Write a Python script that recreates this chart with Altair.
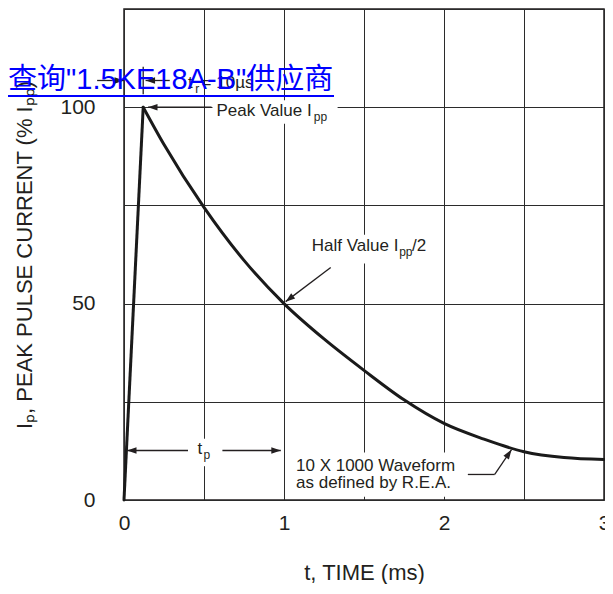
import math
import altair as alt
import pandas as pd

# ---------------- data ----------------
rise_t = [0.0, 0.12]
rise_v = [0.0, 100.0]
decay_t = [0.12, 0.25, 0.5, 0.75, 1.0, 1.25, 1.5, 1.75, 2.0, 2.25, 2.5, 2.75, 3.0]
decay_v = [100.0, 90.5, 74.5, 61.0, 50.0, 41.0, 33.0, 25.5, 19.5, 15.5, 12.3, 10.8, 10.3]

x_ticks = [0, 0.5, 1, 1.5, 2, 2.5, 3]
y_ticks = [0, 25, 50, 75, 100, 125]

# ---------------- annotation layout (data units) ----------------
txt_label = ["t", "r", "= 10µs", "Peak Value I", "pp", "Half Value I", "pp", "/2",
             "t", "p", "10 X 1000 Waveform", "as defined by R.E.A."]
txt_t = [0.40, 0.445, 0.485, 0.578, 1.186, 1.174, 1.72, 1.80, 0.46, 0.497, 1.075, 1.075]
txt_v = [104.8, 103.6, 104.8, 97.7, 96.4, 63.5, 62.0, 63.5, 11.8, 10.4, 7.3, 3.0]
txt_size = [17, 12, 17, 17, 12, 17, 12, 17, 17, 12, 17, 17]

box_t1 = [0.553, 1.149, 0.43, 1.043]
box_t2 = [1.335, 1.913, 0.565, 2.149]
box_v1 = [95.8, 60.2, 8.6, 0.8]
box_v2 = [101.8, 67.5, 15.6, 12.1]

# segments: tail -> tip ; head flag
seg_t1 = [-0.168, 0.286, 0.12, 0.547, 1.292, 0.40, 0.615, 2.149, 2.317]
seg_v1 = [106.8, 106.8, 110.3, 100.0, 59.2, 12.6, 12.6, 6.5, 6.5]
seg_t2 = [0.0, 0.135, 0.12, 0.15, 1.01, 0.019, 0.98, 2.317, 2.422]
seg_v2 = [106.8, 106.8, 103.3, 100.0, 50.5, 12.6, 12.6, 6.5, 12.8]
seg_head = [True, True, False, True, True, True, True, False, True]

watermark = '查询"1.5KE18A-B"供应商'

W, H = 480, 491
XMAX, YMAX = 3.0, 125.0
pxx = W / XMAX
pxy = H / YMAX

curve_rise = pd.DataFrame({"t": rise_t, "v": rise_v})
curve_decay = pd.DataFrame({"t": decay_t, "v": decay_v})
texts = pd.DataFrame({"label": txt_label, "t": txt_t, "v": txt_v, "s": txt_size})
boxes = pd.DataFrame({"t1": box_t1, "t2": box_t2, "v1": box_v1, "v2": box_v2})
segs = pd.DataFrame({"t1": seg_t1, "v1": seg_v1, "t2": seg_t2, "v2": seg_v2})

heads = []
for a, b, c, d, h in zip(seg_t1, seg_v1, seg_t2, seg_v2, seg_head):
    if h:
        dx = (a - c) * pxx
        dy = -(b - d) * pxy
        ang = math.degrees(math.atan2(dy, dx)) % 360
        heads.append({"t": c, "v": d, "ang": ang})
heads = pd.DataFrame(heads)

ink = "#231f20"
FONT = "Liberation Sans"

xs = alt.Scale(domain=[0, XMAX], nice=False, zero=False)
ys = alt.Scale(domain=[0, YMAX], nice=False, zero=False)

x_axis = alt.Axis(values=x_ticks,
                  labelExpr="datum.value % 1 == 0 ? format(datum.value, 'd') : ''",
                  grid=True, ticks=False, tickSize=0, domain=False,
                  title="t, TIME (ms)", labelFontSize=21, titleFontSize=22,
                  labelPadding=12, titlePadding=29, labelFlush=False, labelOverlap=False)
y_axis = alt.Axis(values=y_ticks,
                  labelExpr="(datum.value % 50 == 0 && datum.value <= 100) ? format(datum.value, 'd') : ''",
                  grid=True, ticks=False, tickSize=0, domain=False,
                  title="Iₚ, PEAK PULSE CURRENT (% Iₚₚ)", labelFontSize=21, titleFontSize=22,
                  labelPadding=29, titlePadding=23, labelFlush=False, labelOverlap=False)

base_rect = alt.Chart(boxes).mark_rect(color="white").encode(
    x=alt.X("t1:Q", scale=xs, axis=x_axis),
    x2="t2:Q",
    y=alt.Y("v1:Q", scale=ys, axis=y_axis),
    y2="v2:Q",
)

rise = alt.Chart(curve_rise).mark_line(color="#1a1a1a", strokeWidth=3, strokeCap="round").encode(
    x="t:Q", y="v:Q")
decay = alt.Chart(curve_decay).mark_line(color="#1a1a1a", strokeWidth=3, strokeCap="round",
                                         interpolate="monotone").encode(x="t:Q", y="v:Q")

rules = alt.Chart(segs).mark_rule(color=ink, strokeWidth=1.3).encode(
    x="t1:Q", y="v1:Q", x2="t2:Q", y2="v2:Q")

arrowheads = alt.Chart(heads).mark_point(
    shape="M0,0L2,-0.7L2,0.7Z", filled=True, color=ink, opacity=1, size=90, strokeWidth=0
).encode(x="t:Q", y="v:Q", angle=alt.Angle("ang:Q", scale=None))

labels = alt.Chart(texts).mark_text(align="left", baseline="alphabetic", font=FONT, color=ink).encode(
    x="t:Q", y="v:Q", text="label:N", size=alt.Size("s:Q", scale=None))

wm_df = pd.DataFrame({"label": [watermark]})
wm = alt.Chart(wm_df).mark_text(
    align="left", baseline="alphabetic", font='Liberation Sans, "Noto Sans CJK SC"',
    fontSize=29, color="#0000ff"
).encode(text="label:N", x=alt.value(-116), y=alt.value(80))
wm_line = alt.Chart(wm_df).mark_rule(color="#0000ff", strokeWidth=2).encode(
    x=alt.value(-116), x2=alt.value(210), y=alt.value(87))

chart = alt.layer(base_rect, rise, decay, rules, arrowheads, labels, wm, wm_line).properties(
    width=W, height=H,
    autosize=alt.AutoSizeParams(type="none"),
    padding={"left": 116, "top": 1, "right": 1, "bottom": 84},
).configure_view(stroke=ink, strokeWidth=1.5).configure_axis(
    gridColor="#2b2b2b", gridWidth=1, gridOpacity=1,
    labelColor=ink, titleColor=ink, labelFont=FONT, titleFont=FONT, titleFontWeight="normal"
)

chart.save("out.html", embed_options={"renderer": "svg", "actions": False})
